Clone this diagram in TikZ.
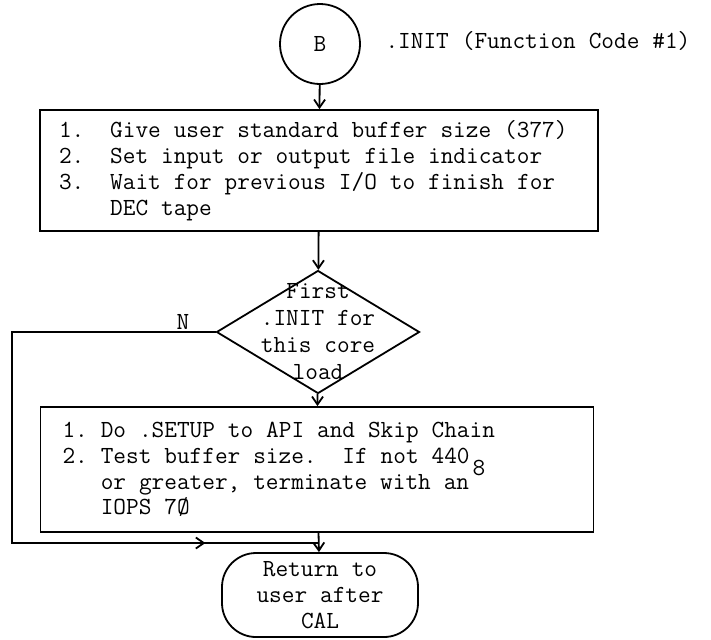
\documentclass[tikz,border=0pt]{standalone}
\usepackage{fontspec}
\usetikzlibrary{shapes.geometric, arrows.meta, calc}
\frenchspacing

\begin{document}
\begin{tikzpicture}[x=0.5pt, y=-0.5pt, line width=0.9pt, >={Straight Barb[length=4pt,width=5.5pt]},
  every node/.style={font=\ttfamily\fontsize{12.3}{12.9}\selectfont, execute at begin node={\spaceskip=6.46pt\relax}},
  connector/.style={circle, draw, minimum size=40pt, inner sep=0pt},
  box/.style={rectangle, draw, align=left},
  decision/.style={diamond, draw, inner sep=0pt, minimum width=101.5pt, minimum height=61.5pt},
  terminal/.style={rectangle, rounded corners=17pt, draw, align=center, inner sep=1pt, minimum width=98pt, minimum height=42pt}]

\useasboundingbox (0,0) rectangle (711,639);

\node[connector] (start) at (320,44) {B};
\node[anchor=west] (title) at (378,41) {.INIT (Function Code \#1)};

\node[box, text width=260pt, inner xsep=9.5pt, minimum height=60.5pt] (init) at (319,170.5)
  {1.~~Give user standard buffer size (377)\\
   2.~~Set input or output file indicator\\
   3.~~Wait for previous I/O to finish for\\
   \phantom{3.~~}DEC tape};

\node[decision, label={[align=center, font=\ttfamily\fontsize{12.3}{13.5}\selectfont]center:First\\.INIT for\\this core\\load}] (first) at (318,332) {};
\node (no) at (183,322) {N};

\node[box, text width=254.5pt, inner xsep=11pt, minimum height=62.5pt] (setup) at (317,469.5)
  {1.~Do .SETUP to API and Skip Chain\\
   2.~Test buffer size.~~If not 440\hspace{1.5pt}\smash{\raisebox{-6pt}{8}}\\
   \phantom{2.~}or greater, terminate with an\\
   \phantom{2.~}IOPS 7Ø};

\node[terminal] (return) at (320,595) {Return to\\user after\\CAL};

\coordinate (nturn) at (12,543);
\coordinate (join) at (319,543);

% main line
\draw[->] (start) -- (init);
\draw[->] (init) -- (first);
\draw[->] (first) -- (setup);
\draw[->] (setup) -- (return);

% N branch
\draw (first.west) -| (nturn) -- (join);
\draw[->] (nturn) -- ($(nturn)!0.63!(join)$);

\end{tikzpicture}
\end{document}
